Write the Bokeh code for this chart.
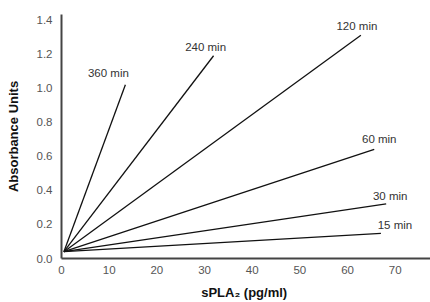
from bokeh.plotting import figure
from bokeh.models import Range1d, ColumnDataSource, FixedTicker, PrintfTickFormatter
from bokeh.core.properties import value
from bokeh.embed import file_html
from bokeh.resources import INLINE

# Data
times = ["15 min", "30 min", "60 min", "120 min", "240 min", "360 min"]
x_start = [0.5, 0.5, 0.5, 0.5, 0.5, 0.5]
y_start = [0.04, 0.04, 0.04, 0.04, 0.04, 0.04]
x_end = [67.0, 68.1, 65.6, 62.8, 31.9, 13.4]
y_end = [0.147, 0.32, 0.64, 1.31, 1.19, 1.02]
x_ticks = [0, 10, 20, 30, 40, 50, 60, 70]
y_ticks = [0.0, 0.2, 0.4, 0.6, 0.8, 1.0, 1.2, 1.4]

# label offsets (screen px, label centre relative to line end)
lab_dx = [14, 4, 5, -4, -8, -17]
lab_dy = [-8, -8, -10, -9, -9, -12]

FONT = "Liberation Sans"

p = figure(width=430, height=302, output_backend="svg", toolbar_location=None,
           x_range=Range1d(0, 77.4), y_range=Range1d(0, 1.432),
           min_border_left=61, min_border_right=0, min_border_top=14, min_border_bottom=42)
p.outline_line_color = None
p.xgrid.visible = False
p.ygrid.visible = False
p.background_fill_color = "white"
p.border_fill_color = "white"

src = ColumnDataSource(dict(x0=x_start, y0=y_start, x1=x_end, y1=y_end, t=times,
                            dx=lab_dx, dy=lab_dy))
p.segment(x0="x0", y0="y0", x1="x1", y1="y1", source=src, line_color="#111111", line_width=1.3)
p.text(x="x1", y="y1", text="t", source=src, x_offset="dx", y_offset="dy",
       text_align="center", text_baseline="middle", text_font=value(FONT),
       text_font_size="11.5px", text_color="#333333")

for ax in (p.xaxis[0], p.yaxis[0]):
    ax.axis_line_width = 2
    ax.axis_line_color = "#444444"
    ax.major_tick_line_color = None
    ax.minor_tick_line_color = None
    ax.major_tick_out = 0
    ax.major_tick_in = 0
    ax.major_label_text_font = FONT
    ax.major_label_text_font_size = "11.5px"
    ax.major_label_text_color = "#555555"
    ax.axis_label_text_font = FONT
    ax.axis_label_text_font_style = "bold"
    ax.axis_label_text_font_size = "13px"
    ax.axis_label_text_color = "#111111"

p.xaxis.ticker = FixedTicker(ticks=x_ticks)
p.yaxis.ticker = FixedTicker(ticks=y_ticks)
p.yaxis.formatter = PrintfTickFormatter(format="%.1f")
p.xaxis.axis_label = "sPLA\u2082  (pg/ml)"
p.yaxis.axis_label = "Absorbance Units"
p.yaxis.major_label_standoff = 9
p.xaxis.major_label_standoff = 7
p.yaxis.axis_label_standoff = 13
p.xaxis.axis_label_standoff = 8

open("out.html", "w").write(file_html(p, INLINE))
